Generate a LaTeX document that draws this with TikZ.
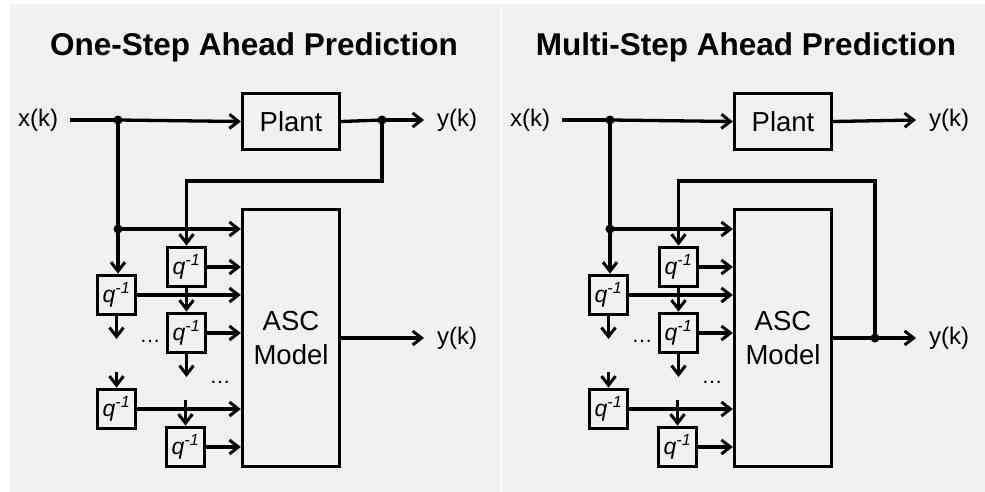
\documentclass[tikz,border=0pt]{standalone}
\usepackage{fontspec}
\setmainfont{Liberation Sans}
\usetikzlibrary{arrows.meta}
\definecolor{panel}{HTML}{F1F1F1}
\tikzset{
  wire/.style={line width=3.3pt},
  arr/.style={wire,-{Straight Barb[length=9pt,width=14pt,line width=3pt]}},
  blk/.style={draw,line width=3.3pt,inner sep=0pt},
  qbox/.style={blk,minimum width=37.5pt,minimum height=39.5pt,font=\fontsize{23}{23}\selectfont\itshape},
  lbl/.style={font=\fontsize{24}{24}\selectfont},
  big/.style={font=\fontsize{27.5}{34}\selectfont},
  jdot/.style={circle,fill=black,inner sep=0pt,minimum size=9pt},
  ttl/.style={font=\fontsize{31.5}{31.5}\selectfont\bfseries},
  ellip/.style={font=\fontsize{21}{21}\selectfont,anchor=base,inner sep=0pt}
}
\newcommand\qq{q\textsuperscript{-1}}
\newcommand\commonpanel[1]{%
  \node[ttl] (title) at (254,47) {#1};
  \node[lbl] (xk) at (38,120) {x(k)};
  \coordinate (xin) at (70,120);
  \coordinate (j1) at (118,120);
  \node[blk,big,minimum width=97pt,minimum height=56pt] (plant) at (291,121.5) {Plant};
  \node[blk,big,minimum width=97pt,minimum height=257pt,align=center] (asc) at (291,338) {ASC\\Model};
  \coordinate (yout1) at (424,120);
  \coordinate (yout2) at (424,338);
  \node[lbl] (yk1) at (457,120) {y(k)};
  \node[lbl] (yk2) at (457,338) {y(k)};
  \coordinate (j3) at (118,229);
  \node[qbox] (Q1) at (186.5,267) {\qq};
  \node[qbox] (QA) at (116.5,295) {\qq};
  \node[qbox] (Q2) at (186.5,333) {\qq};
  \node[qbox] (QB) at (116.5,409) {\qq};
  \node[qbox] (QC) at (185.5,447) {\qq};
  \coordinate (sA) at (116.5,339);
  \coordinate (s2) at (186.5,377);
  \coordinate (sB) at (116.5,372);
  \coordinate (sC) at (185.5,400);
  \draw[wire] (xin) -- (j1);
  \draw[arr] (j1) -- (plant.west);
  \draw[wire] (j1) -- (j3);
  \draw[arr] (j3) -- (j3 -| asc.west);
  \draw[arr] (j3) -- (j3 |- QA.north);
  \draw[arr] (Q1.east) -- (Q1.east -| asc.west);
  \draw[arr] (QA.east) -- (QA.east -| asc.west);
  \draw[arr] (Q1.south) -- (Q2.north);
  \draw[arr] (Q2.east) -- (Q2.east -| asc.west);
  \draw[arr] (QA.south) -- (sA);
  \draw[arr] (Q2.south) -- (s2);
  \draw[arr] (sB) -- (QB.north);
  \draw[arr] (QB.east) -- (QB.east -| asc.west);
  \draw[arr] (sC) -- (QC.north);
  \draw[arr] (QC.east) -- (QC.east -| asc.west);
  \node[jdot] (d1) at (j1) {};
  \node[jdot] (d3) at (j3) {};
  \node[ellip] (e1) at (150,342) {…};
  \node[ellip] (e2) at (220,383) {…};
}
\begin{document}
\begin{tikzpicture}[x=1pt,y=-1pt]
  \useasboundingbox (0,0) rectangle (985,492);
  \fill[white] (0,0) rectangle (985,492);
  \fill[panel] (10,4) rectangle (501,492);
  \fill[panel] (502,4) rectangle (985,492);
  \begin{scope}[name prefix=L-]
    \commonpanel{One-Step Ahead Prediction}
    \coordinate (j2) at (382,120);
    \draw[wire] (plant.east) -- (j2);
    \draw[arr] (j2) -- (yout1);
    \draw[arr] (j2) -- ++(0,61) -| (Q1.north);
    \node[jdot] (d2) at (j2) {};
    \draw[arr] (asc.east) -- (yout2);
  \end{scope}
  \begin{scope}[xshift=492pt,name prefix=R-]
    \commonpanel{Multi-Step Ahead Prediction}
    \draw[arr] (plant.east) -- (yout1);
    \coordinate (j4) at (383,338);
    \draw[wire] (asc.east) -- (j4);
    \draw[arr] (j4) -- (yout2);
    \draw[arr] (j4) -- ++(0,-157) -| (Q1.north);
    \node[jdot] (d4) at (j4) {};
  \end{scope}
\end{tikzpicture}
\end{document}
